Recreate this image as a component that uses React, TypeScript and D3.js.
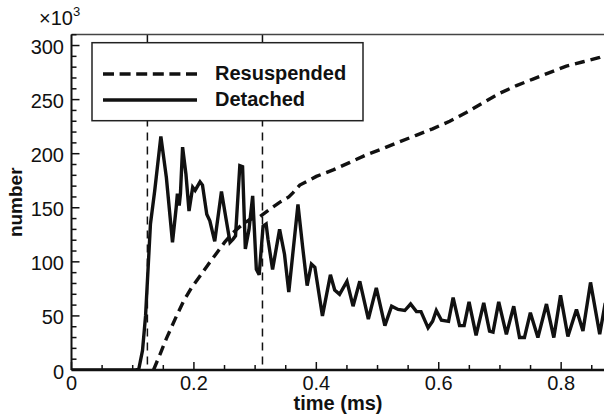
import React from "react";
import * as d3 from "d3";

// Detached series (time in ms, number ×10^3)
const detachedT = [0, 0.105, 0.11, 0.116, 0.121, 0.124, 0.129, 0.136, 0.146, 0.155, 0.165, 0.171, 0.173, 0.176, 0.178, 0.1815, 0.187, 0.192, 0.198, 0.202, 0.206, 0.21, 0.214, 0.221, 0.226, 0.234, 0.245, 0.253, 0.259, 0.264, 0.268, 0.275, 0.2795, 0.284, 0.29, 0.296, 0.302, 0.3066, 0.313, 0.318, 0.321, 0.3285, 0.34, 0.348, 0.355, 0.37, 0.378, 0.385, 0.392, 0.3976, 0.41, 0.423, 0.43, 0.438, 0.45, 0.46, 0.471, 0.485, 0.498, 0.512, 0.523, 0.5336, 0.5445, 0.554, 0.5636, 0.571, 0.5826, 0.59, 0.596, 0.6044, 0.616, 0.6235, 0.634, 0.6415, 0.6495, 0.661, 0.6735, 0.683, 0.6887, 0.698, 0.7105, 0.7225, 0.732, 0.74, 0.7497, 0.762, 0.776, 0.788, 0.799, 0.811, 0.825, 0.8356, 0.848, 0.863, 0.872];
const detachedV = [0, 0, 1, 18, 50, 82, 135, 166, 216, 178, 118, 150, 163, 152, 163, 206, 181, 147, 169, 166, 170, 174, 171, 144, 138, 119, 165, 138, 118, 121, 124, 189, 188, 112, 130, 161, 93, 88, 133, 135, 121, 93, 130, 107, 72, 153, 112, 78, 98, 95, 50, 88, 74, 70, 82, 59, 82, 47, 76, 41, 59, 56, 55, 61, 54, 54, 39, 45, 55, 46, 45, 67, 41, 41, 63, 32, 62, 36, 35, 63, 33, 59, 30, 30, 53, 30, 61, 30, 69, 31, 56, 36, 81, 33, 62];

// Resuspended series
const resuspT = [0.134, 0.145, 0.155, 0.17, 0.1825, 0.196, 0.21, 0.224, 0.237, 0.25, 0.264, 0.278, 0.291, 0.308, 0.325, 0.34, 0.355, 0.362, 0.373, 0.4, 0.4275, 0.455, 0.482, 0.51, 0.536, 0.563, 0.59, 0.618, 0.645, 0.672, 0.7, 0.727, 0.754, 0.781, 0.8085, 0.836, 0.863, 0.872];
const resuspV = [0, 15, 29, 48, 63, 76, 87, 98, 108, 118, 127, 134, 139, 142, 149, 155, 160, 164, 171, 179, 185, 192, 199, 205, 211, 217, 223, 230, 238, 247, 256, 263, 269, 275, 281, 285, 289, 291];

// Marker vertical lines (ms)
const markerT = [0.124, 0.312];

const xTicks = [0, 0.2, 0.4, 0.6, 0.8];
const xTickLabels = ["0", "0.2", "0.4", "0.6", "0.8"];
const yTicks = [0, 50, 100, 150, 200, 250, 300];
const yTickLabels = ["0", "50", "100", "150", "200", "250", "300"];

const legendLabels = ["Resuspended", "Detached"];

const W = 604;
const H = 418;
const left = 71.5;
const right = 604;
const top = 34.5;
const bottom = 370;
const FONT = "'Liberation Sans', Arial, Helvetica, sans-serif";

export default function App() {
  const x = d3.scaleLinear().domain([0, 0.87]).range([left, right]);
  const y = d3.scaleLinear().domain([0, 310.2]).range([bottom, top]);

  const line = d3
    .line<[number, number]>()
    .x((d) => x(d[0]))
    .y((d) => y(d[1]));

  const det: [number, number][] = detachedT.map((t, i) => [t, detachedV[i]]);
  const res: [number, number][] = resuspT.map((t, i) => [t, resuspV[i]]);

  const xMinor = d3.range(0, 0.871, 0.05).filter((v) => !xTicks.some((t) => Math.abs(t - v) < 1e-6));
  const yMinor = d3.range(0, 311, 10).filter((v) => v % 50 !== 0);

  return (
    <svg
      width={W}
      height={H}
      style={{ position: "absolute", left: 0, top: 0, background: "#fff" }}
      fontFamily={FONT}
    >
      <defs>
        <clipPath id="plot">
          <rect x={left} y={top} width={right - left} height={bottom - top} />
        </clipPath>
      </defs>
      <rect x={0} y={0} width={W} height={H} fill="#fff" />

      {/* marker lines */}
      {markerT.map((t, i) => (
        <line
          key={"m" + i}
          x1={x(t)}
          x2={x(t)}
          y1={top}
          y2={bottom}
          stroke="#111"
          strokeWidth={1.5}
          strokeDasharray="8,6"
        />
      ))}

      <g clipPath="url(#plot)">
        <path d={line(res) || ""} fill="none" stroke="#111" strokeWidth={3.4} strokeDasharray="10,6" />
        <path d={line(det) || ""} fill="none" stroke="#111" strokeWidth={3.4} strokeLinejoin="miter" strokeMiterlimit={3} />
      </g>

      {/* legend */}
      <g>
        <rect x={92} y={42.7} width={271} height={78} fill="#fff" stroke="#222" strokeWidth={1.5} />
        <line x1={103} x2={197} y1={74} y2={74} stroke="#111" strokeWidth={3.4} strokeDasharray="11,5.6" />
        <line x1={103} x2={197} y1={100} y2={100} stroke="#111" strokeWidth={3.4} />
        <text x={215} y={80} fontSize={20} fontWeight="bold" fill="#111">
          {legendLabels[0]}
        </text>
        <text x={215} y={106} fontSize={20} fontWeight="bold" fill="#111">
          {legendLabels[1]}
        </text>
      </g>

      {/* frame */}
      <line x1={left} x2={right} y1={top} y2={top} stroke="#444" strokeWidth={1.5} />
      <line x1={left} x2={left} y1={top} y2={bottom} stroke="#111" strokeWidth={2} />
      <line x1={left} x2={right} y1={bottom} y2={bottom} stroke="#111" strokeWidth={2.5} />

      {/* x ticks */}
      {xTicks.map((t, i) => (
        <g key={"xt" + i}>
          <line x1={x(t)} x2={x(t)} y1={bottom} y2={bottom - 8} stroke="#111" strokeWidth={1.5} />
          <text x={x(t)} y={390} fontSize={20} textAnchor="middle" fill="#111">
            {xTickLabels[i]}
          </text>
        </g>
      ))}
      {xMinor.map((t, i) => (
        <line key={"xm" + i} x1={x(t)} x2={x(t)} y1={bottom} y2={bottom - 5} stroke="#111" strokeWidth={1.5} />
      ))}

      {/* y ticks */}
      {yTicks.map((v, i) => (
        <g key={"yt" + i}>
          <line x1={left} x2={left + 8} y1={y(v)} y2={y(v)} stroke="#111" strokeWidth={1.5} />
          <text x={64} y={y(v) + 8.5} fontSize={20} textAnchor="end" fill="#111">
            {yTickLabels[i]}
          </text>
        </g>
      ))}
      {yMinor.map((v, i) => (
        <line key={"ym" + i} x1={left} x2={left + 5} y1={y(v)} y2={y(v)} stroke="#111" strokeWidth={1.5} />
      ))}

      {/* multiplier */}
      <text x={39} y={25} fontSize={20} fill="#111">
        ×10
        <tspan dy={-9} fontSize={13}>3</tspan>
      </text>

      {/* axis titles */}
      <text x={338} y={410} fontSize={20} fontWeight="bold" textAnchor="middle" fill="#111">
        time (ms)
      </text>
      <text
        transform={`translate(22,${(top + bottom) / 2}) rotate(-90)`}
        fontSize={19}
        fontWeight="bold"
        textAnchor="middle"
        fill="#111"
      >
        number
      </text>
    </svg>
  );
}
